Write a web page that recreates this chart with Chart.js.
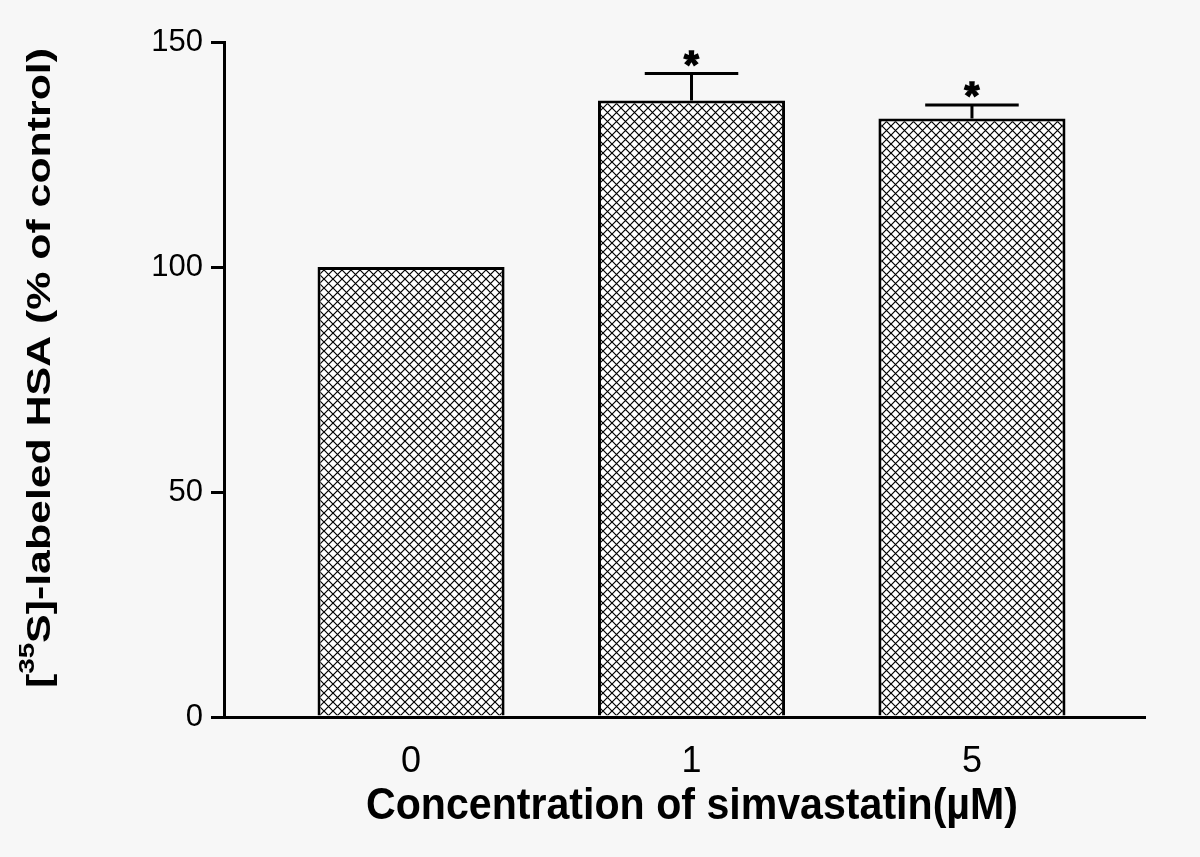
<!DOCTYPE html>
<html>
<head>
<meta charset="utf-8">
<script src="https://cdn.jsdelivr.net/npm/chart.js@4.4.0/dist/chart.umd.min.js"></script>
<style>
  html, body { margin: 0; padding: 0; background: #f7f7f7; }
  #wrap { width: 1200px; height: 857px; }
</style>
</head>
<body>
<div id="wrap"><canvas id="grafica" width="1200" height="857"></canvas></div>
<script>
// datos
const categorias = ['0', '1', '5'];
const medias = [100, 137, 133];
const errores = [0, 6, 3];
const marcas = ['', '*', '*'];
const ticksY = [0, 50, 100, 150];

const tituloX = 'Concentration of simvastatin(\u00b5M)';
const tituloY = ['[', '35', 'S]-labeled HSA (% of control)'];

// trama cruzada de las barras
function crearTrama() {
    const n = 9;
    const c = document.createElement('canvas');
    c.width = n;
    c.height = n;
    const g = c.getContext('2d');
    g.fillStyle = '#ffffff';
    g.fillRect(0, 0, n, n);
    g.strokeStyle = '#000';
    g.lineWidth = 1.2;
    g.beginPath();
    g.moveTo(0, 0); g.lineTo(n, n);
    g.moveTo(n, 0); g.lineTo(0, n);
    g.stroke();
    return g.createPattern(c, 'repeat');
}

const fondo = {
    id: 'fondo',
    beforeDraw(chart) {
        const c = chart.ctx;
        c.save();
        c.fillStyle = '#f7f7f7';
        c.fillRect(0, 0, chart.width, chart.height);
        c.restore();
    }
};

// barras de error, asteriscos y titulos
const extras = {
    id: 'extras',
    afterDatasetsDraw(chart) {
        const c = chart.ctx;
        const x = chart.scales.x;
        const y = chart.scales.y;
        const meta = chart.getDatasetMeta(0);
        c.save();
        c.strokeStyle = '#000';
        c.lineWidth = 3;
        c.fillStyle = '#000';
        medias.forEach((m, i) => {
            if (!errores[i]) return;
            const px = x.getPixelForValue(i);
            const yTop = y.getPixelForValue(m);
            const yErr = y.getPixelForValue(m + errores[i]);
            const media = meta.data[i].width / 4;
            c.lineWidth = 3;
            c.beginPath();
            c.moveTo(px, yTop);
            c.lineTo(px, yErr);
            c.moveTo(px - media, yErr);
            c.lineTo(px + media, yErr);
            c.stroke();
            if (marcas[i]) {
                c.font = 'bold 38px "Liberation Sans", Arial, sans-serif';
                c.textAlign = 'center';
                c.textBaseline = 'alphabetic';
                c.lineWidth = 1.5;
                c.fillText(marcas[i], px, yErr + 4);
                c.strokeText(marcas[i], px, yErr + 4);
            }
        });
        c.restore();
    },
    afterDraw(chart) {
        const c = chart.ctx;
        c.save();
        c.fillStyle = '#000';
        // titulo eje Y con superindice
        const fGrande = 'bold 34px "Liberation Sans", Arial, sans-serif';
        const fChica = 'bold 22px "Liberation Sans", Arial, sans-serif';
        c.font = fGrande;
        const w0 = c.measureText(tituloY[0]).width;
        const w2 = c.measureText(tituloY[2]).width;
        c.font = fChica;
        const w1 = c.measureText(tituloY[1]).width;
        const total = w0 + w1 + w2;
        c.translate(41, 368);
        c.rotate(-Math.PI / 2);
        c.scale(640 / total, 1);
        c.textBaseline = 'middle';
        c.textAlign = 'left';
        let pos = -total / 2;
        c.font = fGrande;
        c.fillText(tituloY[0], pos, 0);
        pos += w0;
        c.font = fChica;
        c.fillText(tituloY[1], pos, -13);
        pos += w1;
        c.font = fGrande;
        c.fillText(tituloY[2], pos, 0);
        c.restore();

        // titulo eje X (letra estrecha)
        c.save();
        c.font = 'bold 44px "Liberation Sans Narrow", "Liberation Sans", Arial, sans-serif';
        const ancho = c.measureText(tituloX).width;
        c.translate(692, 807);
        c.scale(652 / ancho, 1);
        c.textAlign = 'center';
        c.textBaseline = 'middle';
        c.fillStyle = '#000';
        c.fillText(tituloX, 0, 0);
        c.restore();
    }
};

const ctx = document.getElementById('grafica').getContext('2d');

new Chart(ctx, {
    type: 'bar',
    data: {
        datasets: [{
            data: medias.map((v, i) => ({ x: i, y: v })),
            backgroundColor: crearTrama(),
            borderColor: '#000',
            borderWidth: 3,
            borderSkipped: 'bottom',
            barPercentage: 0.667,
            categoryPercentage: 1
        }]
    },
    options: {
        responsive: false,
        animation: false,
        layout: { padding: { top: 42, right: 55, left: 0, bottom: 0 } },
        plugins: { legend: { display: false }, tooltip: { enabled: false } },
        scales: {
            x: {
                type: 'linear',
                offset: false,
                min: -0.667,
                max: 2.617,
                afterBuildTicks: s => { s.ticks = categorias.map((c, i) => ({ value: i })); },
                afterFit: s => { s.height = 140; },
                grid: { display: false },
                border: { display: true, color: '#000', width: 3 },
                ticks: {
                    callback: (v) => categorias[v],
                    color: '#000',
                    padding: 15,
                    maxRotation: 0,
                    font: { family: '"Liberation Sans Narrow", "Liberation Sans", Arial', size: 36 }
                }
            },
            y: {
                min: 0,
                max: 150,
                afterBuildTicks: s => { s.ticks = ticksY.map(v => ({ value: v })); },
                afterFit: s => { s.width = 224; },
                grid: {
                    drawOnChartArea: false,
                    drawTicks: true,
                    tickLength: 13,
                    color: '#000',
                    lineWidth: 3
                },
                border: { display: true, color: '#000', width: 3 },
                ticks: {
                    color: '#000',
                    padding: 8,
                    font: { family: '"Liberation Sans", Arial', size: 31 }
                }
            }
        }
    },
    plugins: [fondo, extras]
});
</script>
</body>
</html>
